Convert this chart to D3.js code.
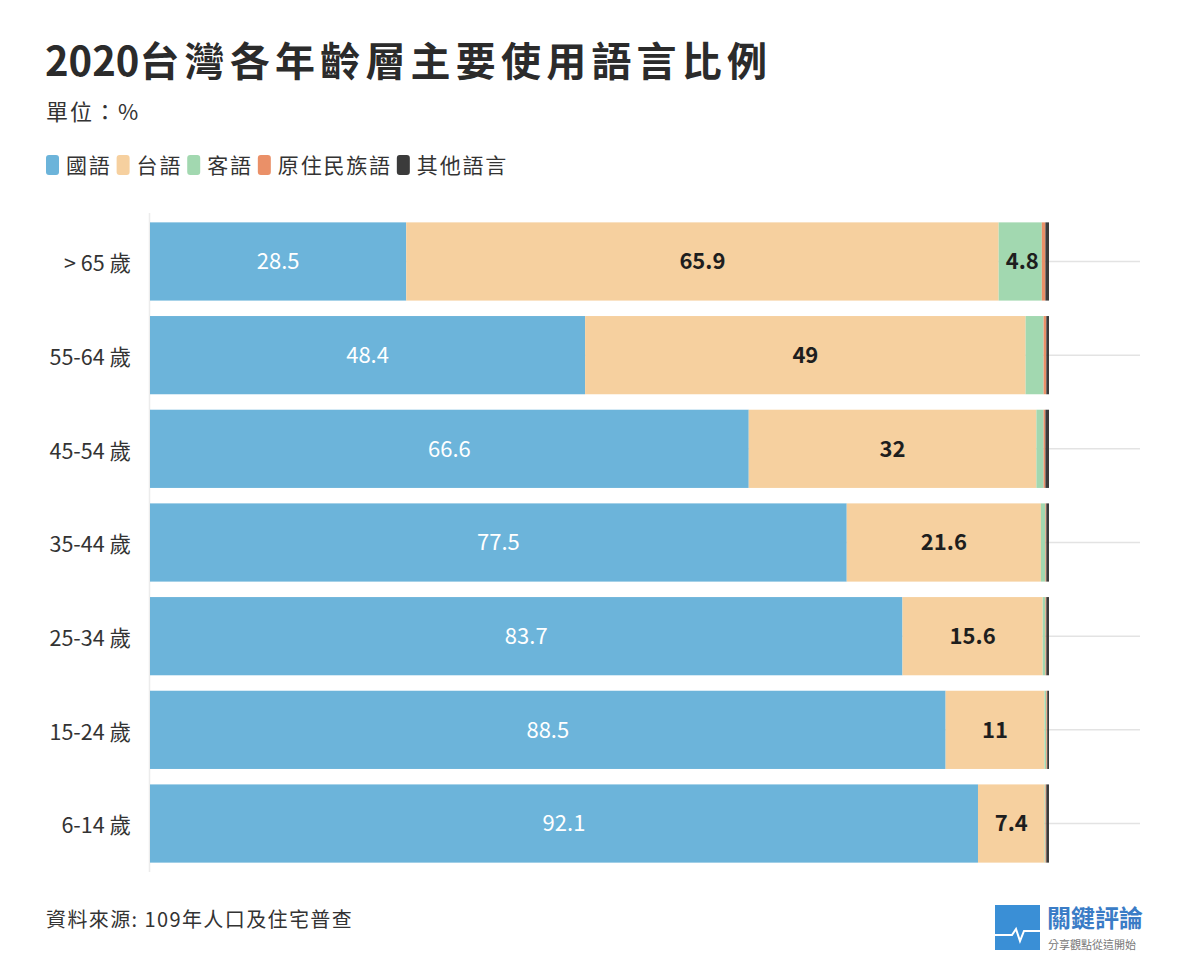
<!DOCTYPE html>
<html>
<head>
<meta charset="utf-8">
<script src="https://cdn.jsdelivr.net/npm/d3@7"></script>
<style>
  body { margin: 0; background: #fff; font-family: "Noto Sans CJK TC", "Noto Sans", sans-serif; }
</style>
</head>
<body>
<div id="chart"></div>
<script>
// data
var ages = ["> 65 歲", "55-64 歲", "45-54 歲", "35-44 歲", "25-34 歲", "15-24 歲", "6-14 歲"];
var languages = ["國語", "台語", "客語", "原住民族語", "其他語言"];
var mandarin   = [28.5, 48.4, 66.6, 77.5, 83.7, 88.5, 92.1];
var taiwanese  = [65.9, 49, 32, 21.6, 15.6, 11, 7.4];
var hakka      = [4.8, 2.0, 0.8, 0.5, 0.3, 0.2, 0.1];
var indigenous = [0.4, 0.3, 0.2, 0.1, 0.1, 0.1, 0.1];
var others     = [0.4, 0.3, 0.4, 0.3, 0.3, 0.2, 0.3];
var colors = ["#6cb4da", "#f6d09f", "#a2d8b0", "#ea9068", "#3b3b3b"];

var W = 1179, H = 980;
var margin = {top: 213, right: 40, bottom: 110, left: 150};
var width = 1140 - margin.left, height = 872 - margin.top;

var svg = d3.select("#chart").append("svg")
    .attr("width", W).attr("height", H);

var title = svg.append("text").attr("x", 45).attr("y", 76)
    .attr("font-size", 40).attr("font-weight", "bold").attr("fill", "#2b2b2b");
title.append("tspan").text("2020");
title.append("tspan").attr("letter-spacing", 5.2).text("台灣各年齡層主要使用語言比例");

svg.append("text").attr("x", 46).attr("y", 120)
    .attr("font-size", 22).attr("letter-spacing", 2).attr("fill", "#333")
    .text("單位：%");

// legend
var lx = 46;
languages.forEach(function(name, i) {
  svg.append("rect").attr("x", lx).attr("y", 155).attr("width", 13).attr("height", 20)
      .attr("rx", 3).attr("fill", colors[i]);
  var t = svg.append("text").attr("x", lx + 20).attr("y", 173)
      .attr("font-size", 21).attr("letter-spacing", 1.8).attr("fill", "#333").text(name);
  lx += 20 + t.node().getComputedTextLength() + 5;
});

var g = svg.append("g").attr("transform", "translate(" + margin.left + "," + margin.top + ")");

var rows = ages.map(function(a, i) {
  return {age: a, "國語": mandarin[i], "台語": taiwanese[i], "客語": hakka[i],
          "原住民族語": indigenous[i], "其他語言": others[i]};
});

var y = d3.scaleBand().domain(ages).range([0, height]).paddingInner(0.165).paddingOuter(0.1);
var x = d3.scaleLinear().domain([0, 100]).range([0, 899]);
var color = d3.scaleOrdinal().domain(languages).range(colors);

// gridlines at band centers
g.append("g").selectAll("line").data(ages).enter().append("line")
    .attr("x1", 0).attr("x2", width)
    .attr("y1", function(d) { return y(d) + y.bandwidth() / 2; })
    .attr("y2", function(d) { return y(d) + y.bandwidth() / 2; })
    .attr("stroke", "#e3e3e3").attr("stroke-width", 1.5);

g.append("line").attr("x1", -0.5).attr("x2", -0.5).attr("y1", 0).attr("y2", height)
    .attr("stroke", "#ececec").attr("stroke-width", 1.5);

var stack = d3.stack().keys(languages)(rows);

g.append("g").selectAll("g").data(stack).enter().append("g")
    .attr("fill", function(d) { return color(d.key); })
    .selectAll("rect").data(function(d) { return d; }).enter().append("rect")
    .attr("x", function(d) { return x(d[0]); })
    .attr("y", function(d) { return y(d.data.age); })
    .attr("width", function(d) { return x(d[1]) - x(d[0]); })
    .attr("height", y.bandwidth());

// value labels for 國語, 台語, and hakka where big enough
stack.slice(0, 3).forEach(function(layer, li) {
  g.append("g").selectAll("text").data(layer.filter(function(d) { return d[1] - d[0] >= 4; }))
    .enter().append("text")
    .attr("x", function(d) { return li == 2 ? x(d[1]) - 3 : (x(d[0]) + x(d[1])) / 2; })
    .attr("y", function(d) { return y(d.data.age) + y.bandwidth() / 2; })
    .attr("dy", "0.36em")
    .attr("text-anchor", li == 2 ? "end" : "middle")
    .attr("font-size", 22)
    .attr("font-weight", li == 0 ? "normal" : "bold")
    .attr("fill", li == 0 ? "#fff" : "#1e1e1e")
    .text(function(d) { return +(d[1] - d[0]).toFixed(1); });
});

// y labels
g.append("g").selectAll("text").data(ages).enter().append("text")
    .attr("x", -19)
    .attr("y", function(d) { return y(d) + y.bandwidth() / 2 + 2; })
    .attr("dy", "0.36em").attr("text-anchor", "end")
    .attr("font-size", 21.5).attr("fill", "#333")
    .text(function(d) { return d; });

// source
svg.append("text").attr("x", 46).attr("y", 927)
    .attr("font-size", 20).attr("letter-spacing", 1.4).attr("fill", "#333")
    .text("資料來源: 109年人口及住宅普查");

// logo
var logo = svg.append("g").attr("transform", "translate(995,905)");
logo.append("rect").attr("width", 45).attr("height", 45).attr("fill", "#3a8fd6");
logo.append("path").attr("d", "M0,30 L17,30 L21,24 L25,36 L29,26 L45,26")
    .attr("fill", "none").attr("stroke", "#fff").attr("stroke-width", 2);
logo.append("text").attr("x", 52).attr("y", 22).attr("font-size", 24)
    .attr("font-weight", "bold").attr("fill", "#3a7cc6").text("關鍵評論");
logo.append("text").attr("x", 53).attr("y", 44).attr("font-size", 11)
    .attr("fill", "#777").text("分享觀點從這開始");
</script>
</body>
</html>
